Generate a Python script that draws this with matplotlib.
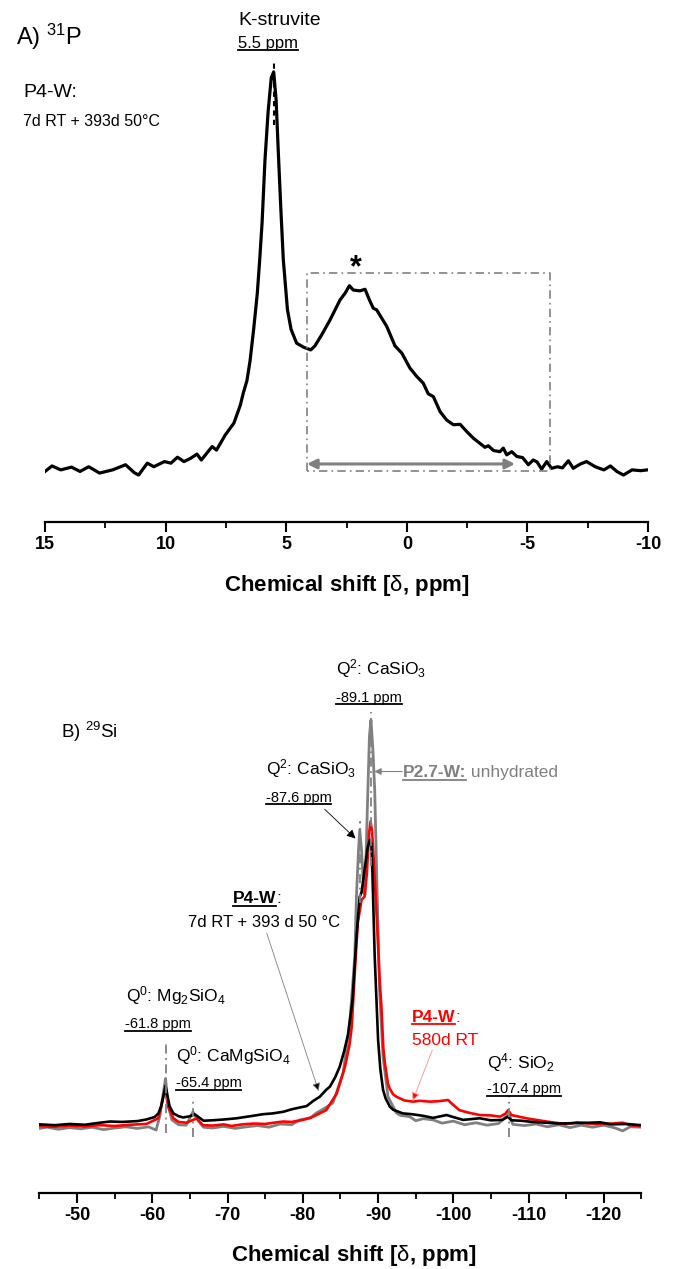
import matplotlib
matplotlib.use('Agg')
import matplotlib.pyplot as plt
from matplotlib.lines import Line2D
from matplotlib.transforms import IdentityTransform

plt.rcParams['font.family'] = ['Liberation Sans', 'DejaVu Sans']
plt.rcParams['mathtext.fontset'] = 'custom'
plt.rcParams['mathtext.rm'] = 'Liberation Sans'
plt.rcParams['mathtext.it'] = 'Liberation Sans:italic'
plt.rcParams['mathtext.bf'] = 'Liberation Sans:bold'
plt.rcParams['axes.unicode_minus'] = False

# ---- A) 31P spectrum (ppm, normalised intensity) ----
p_ppm = [15.00, 14.71, 14.35, 13.90, 13.55, 13.19, 12.74, 12.20, 11.66, 11.30,
         11.12, 10.76, 10.49, 10.05, 9.78, 9.51, 9.24, 8.97, 8.70, 8.52,
         8.07, 7.89, 7.53, 7.17, 6.90, 6.78, 6.63, 6.50, 6.35, 6.20,
         6.10, 6.00, 5.88, 5.75, 5.62, 5.52, 5.42, 5.33, 5.22, 5.12,
         4.95, 4.80, 4.57, 4.29, 3.98, 3.81, 3.53, 3.18, 2.77, 2.56,
         2.38, 2.22, 1.94, 1.73, 1.55, 1.39, 1.25, 0.83, 0.49, 0.21,
         -0.13, -0.41, -0.68, -0.89, -1.10, -1.38, -1.65, -1.93, -2.21, -2.48,
         -2.76, -3.03, -3.24, -3.38, -3.59, -3.86, -4.00, -4.14, -4.35, -4.56,
         -4.80, -5.04, -5.24, -5.40, -5.59, -5.80, -6.00, -6.25, -6.45, -6.70,
         -6.90, -7.20, -7.45, -7.81, -8.17, -8.44, -8.71, -8.98, -9.34, -9.70,
         -9.97]
p_int = [-0.9, 0.5, -0.5, 0.2, -0.9, 0.3, -1.3, -0.5, 0.8, -1.2,
         -1.8, 1.2, 0.3, 1.6, 1.2, 2.7, 1.6, 2.4, 3.5, 2.0,
         5.4, 4.5, 8.3, 11.3, 15.9, 18.9, 22.0, 27.0, 35.0, 44.0,
         52.5, 62.0, 77.8, 90.0, 98.5, 100.0, 93.0, 80.0, 65.0, 52.5,
         40.0, 35.0, 31.5, 30.5, 29.8, 30.8, 33.6, 37.4, 42.4, 44.1,
         46.0, 44.9, 44.7, 45.1, 42.4, 40.3, 39.9, 35.7, 30.8, 29.0,
         25.2, 23.1, 21.4, 18.7, 18.0, 14.2, 12.1, 10.9, 11.0, 9.2,
         7.5, 6.2, 5.2, 5.6, 4.4, 4.1, 5.0, 3.3, 4.1, 2.9,
         2.6, 0.8, 2.0, 1.5, -0.3, 1.6, -0.1, 0.3, 0.0, 1.8,
         -0.1, 1.0, 1.6, 0.3, -0.5, 0.5, -0.9, -1.8, -0.5, -0.7,
         -0.5]
p_ticks = [15, 10, 5, 0, -5, -10]
p_peak = 5.5
p_box_ppm = (4.14, -5.94)
p_box_int = (-0.8, 49.2)
p_arrow_ppm = (4.14, -4.49)

# ---- B) 29Si spectra ----
blk_ppm = [-45.0, -47.0, -49.0, -51.0, -53.0, -54.4, -56.0, -58.0, -59.2, -60.3,
           -60.8, -61.2, -61.45, -61.75, -62.0, -62.3, -62.8, -63.5, -64.1, -65.0,
           -65.6, -66.0, -66.8, -68.0, -69.5, -71.2, -73.0, -74.7, -76.0, -77.4,
           -78.5, -79.2, -80.5, -81.4, -82.25, -83.1, -83.6, -84.3, -84.9, -85.5,
           -86.0, -86.6, -87.1, -87.4, -87.56, -87.8, -88.2, -88.6, -88.9, -89.1,
           -89.25, -89.55, -90.0, -90.3, -90.66, -91.0, -91.55, -92.0, -93.3, -94.5,
           -96.0, -97.3, -99.1, -100.0, -101.3, -103.5, -105.0, -106.5, -107.26, -107.7,
           -109.0, -110.5, -112.4, -114.0, -116.0, -118.0, -119.5, -121.0, -123.0, -125.0]
blk_int = [0.4, 0.2, 0.5, 0.3, 0.8, 1.1, 1.0, 1.2, 1.6, 2.2,
           3.1, 5.0, 7.2, 9.9, 7.5, 4.8, 3.1, 2.4, 2.1, 2.4,
           2.9, 2.4, 1.3, 1.4, 1.6, 1.9, 2.4, 2.9, 3.1, 3.5,
           4.1, 4.4, 4.9, 6.2, 7.2, 8.9, 9.7, 12.0, 14.6, 18.5,
           22.5, 31.0, 45.8, 53.0, 56.5, 57.5, 63.0, 68.5, 70.4, 69.5,
           62.2, 41.7, 21.2, 14.0, 8.9, 6.8, 4.8, 4.0, 3.1, 2.9,
           2.5, 2.0, 2.7, 2.2, 1.5, 1.9, 1.4, 1.5, 2.3, 1.4,
           1.3, 1.0, 0.8, 0.6, 0.7, 0.8, 0.9, 0.4, 0.5, 0.2]

red_ppm = [-45.0, -47.0, -49.0, -51.0, -53.0, -55.0, -57.0, -59.2, -60.8, -61.35,
           -61.75, -62.1, -62.8, -63.5, -64.5, -65.3, -65.9, -66.7, -68.0, -69.5,
           -70.5, -72.0, -73.5, -75.0, -76.5, -77.4, -78.5, -80.0, -81.0, -81.8,
           -83.1, -84.5, -85.6, -86.2, -86.5, -86.9, -87.3, -87.8, -88.2, -88.5,
           -88.8, -89.0, -89.2, -89.4, -89.86, -90.2, -90.44, -90.7, -90.9, -91.3,
           -91.55, -92.0, -92.44, -93.5, -94.6, -95.5, -96.9, -98.0, -99.3, -99.8,
           -100.8, -102.0, -103.5, -105.0, -106.2, -106.9, -107.3, -107.7, -109.7, -111.0,
           -112.4, -113.5, -115.0, -116.5, -118.0, -119.5, -121.0, -122.5, -123.5, -124.7]
red_int = [0.0, -0.2, 0.1, -0.1, 0.2, 0.0, 0.3, 0.5, 1.9, 6.4,
           9.3, 4.8, 1.9, 1.0, 0.8, 1.4, 1.9, 0.2, 0.1, 0.4,
           0.0, 0.4, 0.6, 0.5, 0.9, 1.1, 1.0, 1.5, 2.0, 2.7,
           3.9, 8.0, 14.6, 20.0, 24.5, 37.7, 50.0, 55.7, 56.5, 62.0,
           72.0, 75.0, 72.5, 66.3, 50.0, 36.0, 29.4, 19.0, 15.5, 10.5,
           9.2, 7.8, 7.2, 6.3, 6.0, 6.2, 6.0, 6.1, 6.4, 5.5,
           3.9, 3.3, 2.7, 2.6, 2.3, 3.0, 3.9, 2.7, 1.9, 1.5,
           1.1, 0.8, 0.5, 0.9, 0.6, 0.5, 0.6, 0.8, 0.2, 0.0]

gry_ppm = [-45.0, -46.0, -47.5, -49.0, -50.5, -52.0, -53.5, -55.0, -56.5, -58.0,
           -59.5, -60.5, -61.0, -61.4, -61.75, -62.1, -62.6, -63.5, -64.5, -65.4,
           -66.0, -66.8, -68.0, -69.5, -71.0, -72.5, -74.0, -75.5, -77.0, -78.5,
           -79.6, -81.0, -81.8, -83.0, -84.0, -85.35, -86.24, -86.9, -87.12, -87.4,
           -87.56, -87.8, -88.0, -88.25, -88.6, -88.85, -89.05, -89.3, -89.55, -89.86,
           -90.2, -90.66, -91.32, -92.44, -93.0, -94.2, -95.0, -96.0, -97.3, -98.5,
           -100.0, -101.5, -103.0, -104.5, -106.0, -107.4, -107.9, -109.5, -111.0, -112.5,
           -114.0, -115.5, -117.0, -118.5, -120.0, -121.5, -122.5, -123.5, -125.0]
gry_int = [-0.6, -0.3, -0.8, -0.4, -0.7, -0.3, -0.9, -0.5, -0.2, -0.6,
           -0.2, -1.0, 2.5, 7.5, 11.7, 5.0, 1.5, 0.3, 0.2, 3.5,
           1.5, -0.3, -0.5, -0.1, -0.6, -0.2, 0.1, -0.3, 0.5, 0.3,
           1.5, 2.0, 3.2, 4.5, 5.7, 13.0, 25.4, 41.7, 56.5, 68.0,
           73.0, 68.0, 61.0, 57.0, 80.0, 96.0, 100.0, 93.0, 82.8, 58.1,
           33.5, 17.0, 7.2, 3.2, 2.6, 2.3, 1.3, 1.8, 1.5, 0.7,
           1.2, 0.3, 0.8, 0.2, 0.6, 3.0, 0.4, 0.1, 0.5, -0.2,
           0.3, -0.4, 0.2, -0.3, 0.2, -0.5, -1.2, -0.2, -0.3]
si_ticks = [-50, -60, -70, -80, -90, -100, -110, -120]
si_marks = [-61.8, -65.4, -107.4, -89.1, -87.6]

GREY = '#808080'
RED = '#ff0000'
DASHDOT = (0, (5, 2.5, 1, 2.5))
XLABEL = r'Chemical shift [$\mathrm{\delta}$, ppm]'

fig = plt.figure(figsize=(6.76, 12.69), dpi=100)
ax1 = fig.add_axes([0.0666, 0.5887, 0.8920, 0.3956])
ax2 = fig.add_axes([0.0584, 0.0599, 0.8905, 0.4358])


def style_axis(ax, ticks, minor):
    for s in ['left', 'right', 'top']:
        ax.spines[s].set_visible(False)
    ax.spines['bottom'].set_linewidth(1.6)
    ax.set_yticks([])
    ax.set_xticks(ticks)
    ax.set_xticklabels([str(t) for t in ticks], fontweight='bold', fontsize=13)
    ax.set_xticks(minor, minor=True)
    ax.tick_params(axis='x', which='major', direction='out', length=7, width=1.5, pad=3)
    ax.tick_params(axis='x', which='minor', direction='out', length=4, width=1.3)
    ax.patch.set_visible(False)


# ---------------- panel A ----------------
ax1.plot(p_ppm, p_int, color='k', lw=2.3, solid_joinstyle='round')
ax1.set_xlim(15, -10)
ax1.set_ylim(-13.64, 113.1)
style_axis(ax1, p_ticks, [12.5, 7.5, 2.5, -2.5, -7.5])

ax1.plot([p_box_ppm[0], p_box_ppm[0], p_box_ppm[1], p_box_ppm[1], p_box_ppm[0]],
         [p_box_int[0], p_box_int[1], p_box_int[1], p_box_int[0], p_box_int[0]],
         color=GREY, lw=1.2, ls=DASHDOT)
ax1.annotate('', xy=(p_arrow_ppm[1], 1.0), xytext=(p_arrow_ppm[0], 1.0),
             arrowprops=dict(arrowstyle='<|-|>', color=GREY, lw=2.2,
                             mutation_scale=14, shrinkA=0, shrinkB=0))
ax1.plot([p_peak, p_peak], [86.5, 103.0], color='k', lw=1.5, ls=(0, (2.5, 2)))
ax1.text(2.1, 48.5, '*', fontsize=22, fontweight='bold', ha='center', va='baseline')

ax1.text(16.2, 106.8, r'A) $^{31}$P', fontsize=17, ha='left', va='baseline')
ax1.text(15.91, 93.7, 'P4-W:', fontsize=14, ha='left', va='baseline')
ax1.text(15.91, 86.2, '7d RT + 393d 50°C', fontsize=11.5, ha='left', va='baseline')
ax1.text(7.0, 111.9, 'K-struvite', fontsize=14, ha='left', va='baseline')
t_ks = ax1.text(7.0, 106.1, '5.5 ppm', fontsize=12, ha='left', va='baseline')

fig.text(0.513, 1 - 586 / 1269, XLABEL, fontsize=16,
         fontweight='bold', ha='center', va='center')

# ---------------- panel B ----------------
ax2.plot(gry_ppm, gry_int, color=GREY, lw=2.0)
ax2.plot(red_ppm, red_int, color=RED, lw=1.9)
ax2.plot(blk_ppm, blk_int, color='k', lw=1.9)
ax2.set_xlim(-45, -125)
ax2.set_ylim(-16.5, 119.7)
style_axis(ax2, si_ticks, [-45, -55, -65, -75, -85, -95, -105, -115, -125])

mark_spans = [(-1.7, 21.2), (-2.6, 7.2), (-2.6, 7.6), (64, 102), (55, 75)]
for pos, (lo, hi) in zip(si_marks, mark_spans):
    ax2.plot([pos, pos], [lo, hi], color=GREY, lw=1.3, ls=DASHDOT, zorder=5)

ax2.text(-47.9, 95.5, r'B) $^{29}$Si', fontsize=13.5, ha='left', va='baseline')

ax2.text(-84.47, 111.1, r'Q$^2$: CaSiO$_3$', fontsize=12.5, ha='left', va='baseline')
t1 = ax2.text(-84.47, 104.5, '-89.1 ppm', fontsize=10.5, ha='left', va='baseline')
ax2.text(-75.04, 86.5, r'Q$^2$: CaSiO$_3$', fontsize=12.5, ha='left', va='baseline')
t2 = ax2.text(-75.04, 79.9, '-87.6 ppm', fontsize=10.5, ha='left', va='baseline')
ax2.annotate('', xy=(-87.0, 70.8), xytext=(-82.9, 78.0),
             arrowprops=dict(arrowstyle='-|>', color='k', lw=0.6,
                             mutation_scale=13, shrinkA=0, shrinkB=0))

t3 = ax2.text(-93.31, 87.0, 'P2.7-W:', fontsize=12.5, fontweight='bold',
              color=GREY, ha='left', va='center')
ax2.annotate(' unhydrated', xy=(1, 0.5), xycoords=t3, fontsize=12.5, color=GREY,
             ha='left', va='center')
ax2.annotate('', xy=(-89.5, 87.3), xytext=(-93.2, 87.3),
             arrowprops=dict(arrowstyle='-|>', color=GREY, lw=0.8,
                             mutation_scale=10, shrinkA=0, shrinkB=0))

t4 = ax2.text(-70.66, 54.8, 'P4-W', fontsize=12.5, fontweight='bold', ha='left', va='baseline')
ax2.annotate(':', xy=(1, 0), xycoords=t4, fontsize=12.5, ha='left', va='bottom')
ax2.text(-64.76, 49.1, '7d RT + 393 d 50 °C', fontsize=12, ha='left', va='baseline')
ax2.annotate('', xy=(-82.1, 8.6), xytext=(-75.2, 47.5),
             arrowprops=dict(arrowstyle='-|>', facecolor='k', edgecolor=GREY, lw=0.6,
                             mutation_scale=12, shrinkA=0, shrinkB=0))

ax2.text(-56.49, 30.6, r'Q$^0$: Mg$_2$SiO$_4$', fontsize=12.5, ha='left', va='baseline')
t5 = ax2.text(-56.35, 24.1, '-61.8 ppm', fontsize=10.5, ha='left', va='baseline')
ax2.text(-63.09, 15.8, r'Q$^0$: CaMgSiO$_4$', fontsize=12.5, ha='left', va='baseline')
t6 = ax2.text(-63.09, 9.5, '-65.4 ppm', fontsize=10.5, ha='left', va='baseline')

t7 = ax2.text(-94.51, 25.7, 'P4-W', fontsize=12.5, fontweight='bold', color=RED,
              ha='left', va='baseline')
ax2.annotate(':', xy=(1, 0), xycoords=t7, fontsize=12.5, color=RED, ha='left', va='bottom')
ax2.text(-94.51, 20.0, '580d RT', fontsize=12.5, color=RED, ha='left', va='baseline')
ax2.annotate('', xy=(-94.6, 6.2), xytext=(-97.2, 18.7),
             arrowprops=dict(arrowstyle='-|>', facecolor=RED, edgecolor='#ff9a9a', lw=0.7,
                             mutation_scale=12, shrinkA=0, shrinkB=0))

ax2.text(-104.47, 14.2, r'Q$^4$: SiO$_2$', fontsize=12.5, ha='left', va='baseline')
t8 = ax2.text(-104.47, 8.05, '-107.4 ppm', fontsize=10.5, ha='left', va='baseline')

fig.text(0.524, 1 - 1255 / 1269, XLABEL, fontsize=16,
         fontweight='bold', ha='center', va='center')

# underlines drawn from the rendered text extents
fig.canvas.draw()
for t, col in [(t_ks, 'k'), (t1, 'k'), (t2, 'k'), (t3, GREY), (t4, 'k'),
               (t5, 'k'), (t6, 'k'), (t7, RED), (t8, 'k')]:
    bb = t.get_window_extent()
    fig.add_artist(Line2D([bb.x0, bb.x1], [bb.y0 + 0.5, bb.y0 + 0.5], color=col,
                          lw=1.3, transform=IdentityTransform()))

fig.savefig('out.png', dpi=100)
